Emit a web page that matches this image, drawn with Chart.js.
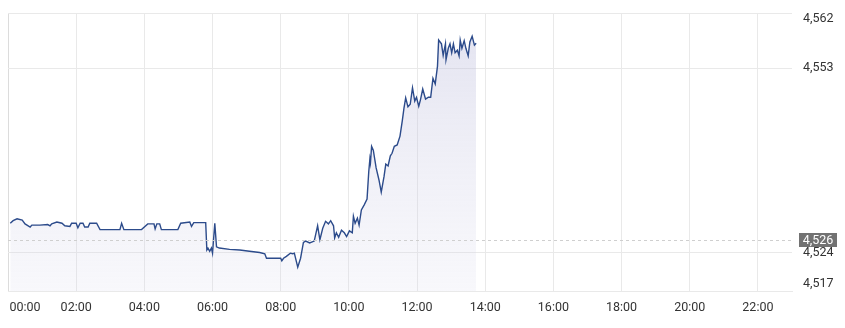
<!DOCTYPE html>
<html>
<head>
<meta charset="utf-8">
<script src="https://cdn.jsdelivr.net/npm/chart.js@4.4.1/dist/chart.umd.min.js"></script>
<style>
  html, body { margin: 0; padding: 0; background: #fff; }
  #wrap { width: 845px; height: 328px; position: relative; }
</style>
</head>
<body>
<div id="wrap"><canvas id="priceChart"></canvas></div>
<script>
'use strict';

// ── data ────────────────────────────────────────────────────────────────────

const times = [
  '00:04', '00:09', '00:16', '00:25', '00:30', '00:39', '00:42', '00:56', '01:10', '01:14',
  '01:17', '01:26', '01:35', '01:40', '01:49', '01:52', '02:00', '02:03', '02:07', '02:12',
  '02:15', '02:21', '02:24', '02:36', '02:42', '03:17', '03:20', '03:24', '03:55', '04:06',
  '04:17', '04:19', '04:22', '04:27', '04:30', '04:59', '05:04', '05:20', '05:23', '05:27',
  '05:48', '05:50', '05:52', '05:55', '05:58', '06:00', '06:04', '06:07', '06:12', '06:30',
  '06:48', '07:05', '07:23', '07:32', '07:35', '08:00', '08:02', '08:05', '08:10', '08:17',
  '08:21', '08:24', '08:30', '08:35', '08:40', '08:44', '08:51', '08:59', '09:05', '09:09',
  '09:14', '09:19', '09:24', '09:28', '09:33', '09:35', '09:38', '09:42', '09:47', '09:52',
  '09:56', '10:01', '10:06', '10:08', '10:11', '10:15', '10:18', '10:22', '10:27', '10:32',
  '10:35', '10:37', '10:38', '10:40', '10:43', '10:48', '10:53', '10:57', '11:02', '11:05',
  '11:09', '11:13', '11:16', '11:20', '11:25', '11:30', '11:34', '11:37', '11:40', '11:44',
  '11:48', '11:52', '11:56', '11:59', '12:03', '12:06', '12:10', '12:15', '12:20', '12:24',
  '12:28', '12:32', '12:36', '12:38', '12:43', '12:46', '12:50', '12:51', '12:55', '12:58',
  '13:01', '13:04', '13:07', '13:11', '13:14', '13:16', '13:19', '13:23', '13:26', '13:30',
  '13:33', '13:37', '13:41', '13:44',
];

const prices = [
  4528.6, 4529.0, 4529.3, 4529.1, 4528.5, 4528.0, 4528.3, 4528.3, 4528.4, 4528.2,
  4528.5, 4528.8, 4528.6, 4528.2, 4528.1, 4528.6, 4528.6, 4527.9, 4528.6, 4528.6,
  4528.0, 4528.0, 4528.6, 4528.6, 4527.6, 4527.6, 4528.6, 4527.6, 4527.6, 4528.5,
  4528.5, 4527.7, 4528.5, 4528.5, 4527.6, 4527.6, 4528.6, 4528.8, 4528.1, 4528.7,
  4528.7, 4524.4, 4524.7, 4524.2, 4524.7, 4523.9, 4528.6, 4524.9, 4524.7, 4524.5,
  4524.4, 4524.2, 4524.0, 4523.8, 4523.1, 4523.1, 4522.7, 4523.1, 4523.4, 4523.9,
  4523.8, 4523.9, 4521.7, 4523.1, 4525.6, 4525.8, 4525.5, 4525.8, 4528.2, 4526.0,
  4527.8, 4528.9, 4528.5, 4529.0, 4528.2, 4526.3, 4527.1, 4526.4, 4527.5, 4527.1,
  4526.5, 4527.4, 4527.1, 4529.7, 4528.6, 4529.4, 4528.3, 4530.7, 4531.5, 4532.4,
  4536.7, 4538.7, 4538.1, 4540.7, 4540.1, 4537.3, 4535.4, 4533.5, 4536.0, 4537.9,
  4537.6, 4539.2, 4539.6, 4540.7, 4540.9, 4542.3, 4544.7, 4546.7, 4548.3, 4546.9,
  4547.3, 4549.9, 4547.8, 4548.4, 4547.0, 4548.0, 4549.7, 4548.1, 4548.4, 4548.4,
  4551.4, 4550.5, 4553.3, 4557.4, 4556.8, 4555.0, 4556.8, 4554.3, 4556.1, 4556.8,
  4555.4, 4556.8, 4555.4, 4555.8, 4554.9, 4557.4, 4556.1, 4557.3, 4556.1, 4554.9,
  4557.1, 4558.0, 4556.6, 4556.9,
];

const prevClose = 4526;

const xTickHours  = [0, 2, 4, 6, 8, 10, 12, 14, 16, 18, 20, 22];
const sessionEnd  = 23;            // hours
const yTicks      = [4517, 4524, 4553, 4562];
const yMin = 4517.95, yMax = 4561.65;

// ── helpers ─────────────────────────────────────────────────────────────────

const toMin = t => { const [h, m] = t.split(':').map(Number); return h * 60 + m; };
const hhmm  = m => String(Math.floor(m / 60)).padStart(2, '0') + ':00';
const fmt   = v => Math.round(v).toLocaleString('en-US');

const GRID = '#e9e9e9';
const FONT = { family: 'Roboto', size: 12.5 };

// edge labels sit a little inside the plot, like the source
const yLabelPos = yTicks.map((v, i) =>
  i === 0 ? yMin + 1.1 : i === yTicks.length - 1 ? yMax - 0.95 : v);

const prevClosePlugin = {
  id: 'prevClose',
  afterDatasetsDraw(ch) {
    const { ctx, chartArea: a, scales: { y } } = ch;
    const py = Math.round(y.getPixelForValue(prevClose)) + 0.5;
    ctx.save();
    ctx.strokeStyle = '#cfcfcf';
    ctx.lineWidth = 1;
    ctx.setLineDash([3, 3]);
    ctx.beginPath();
    ctx.moveTo(a.left, py);
    ctx.lineTo(a.right, py);
    ctx.stroke();
    ctx.setLineDash([]);
    ctx.fillStyle = '#727272';
    ctx.fillRect(a.right + 7, py - 7.5, 38, 14);
    ctx.fillStyle = '#fff';
    ctx.font = '12.5px Roboto';
    ctx.textAlign = 'center';
    ctx.textBaseline = 'middle';
    ctx.fillText(fmt(prevClose), a.right + 26, py);
    ctx.restore();
  },
};

// ── chart ───────────────────────────────────────────────────────────────────

const ctx = document.getElementById('priceChart').getContext('2d');

new Chart(ctx, {
  type: 'line',
  data: {
    datasets: [{
      data: times.map((t, i) => ({ x: toMin(t), y: prices[i] })),
      borderColor: '#2c4b8b',
      borderWidth: 1.4,
      pointRadius: 0,
      tension: 0,
      fill: 'start',
      backgroundColor: c => {
        const a = c.chart.chartArea;
        if (!a) return 'rgba(200,200,225,0.25)';
        const g = c.chart.ctx.createLinearGradient(0, a.top, 0, a.bottom);
        g.addColorStop(0, 'rgba(180,180,215,0.38)');
        g.addColorStop(1, 'rgba(215,215,235,0.18)');
        return g;
      },
    }],
  },
  options: {
    responsive: true, maintainAspectRatio: false, animation: false,
    layout: { padding: { left: 8, top: 13, right: 0, bottom: 0 } },
    plugins: { legend: { display: false }, tooltip: { enabled: false } },
    scales: {
      x: {
        type: 'linear', min: 0, max: sessionEnd * 60,
        afterBuildTicks: s => {
          s.ticks = [{ value: 0 }, { value: 30 }]
            .concat(xTickHours.slice(1).map(h => ({ value: h * 60 })));
        },
        afterFit: s => { s.height = 37; s.paddingLeft = 0; s.paddingRight = 0; },
        ticks: {
          font: FONT, color: '#333', padding: 9, maxRotation: 0, autoSkip: false,
          callback: v => v === 0 ? '' : v === 30 ? '00:00' : hhmm(v),
        },
        grid: {
          drawTicks: false,
          color: c => c.tick && c.tick.value === 30 ? 'transparent'
            : c.tick && c.tick.value === 0 ? '#dcdcdc' : GRID,
        },
        border: { display: true, color: GRID },
      },
      y: {
        position: 'right', min: yMin, max: yMax,
        afterBuildTicks: s => {
          s.ticks = [{ value: yMin }].concat(yLabelPos.map(v => ({ value: v })), [{ value: yMax }]);
        },
        afterFit: s => { s.width = 53; s.paddingTop = 0; s.paddingBottom = 0; },
        ticks: {
          font: FONT, color: '#333', padding: 11, autoSkip: false,
          callback: v => {
            const i = yLabelPos.indexOf(v);
            return i < 0 ? '' : fmt(yTicks[i]);
          },
        },
        grid: {
          drawTicks: false,
          color: c => {
            if (!c.tick) return 'transparent';
            const v = c.tick.value;
            return (v === yMax || v === yTicks[1] || v === yTicks[2]) ? GRID : 'transparent';
          },
        },
        border: { display: false },
      },
    },
  },
  plugins: [prevClosePlugin],
});
</script>
</body>
</html>
